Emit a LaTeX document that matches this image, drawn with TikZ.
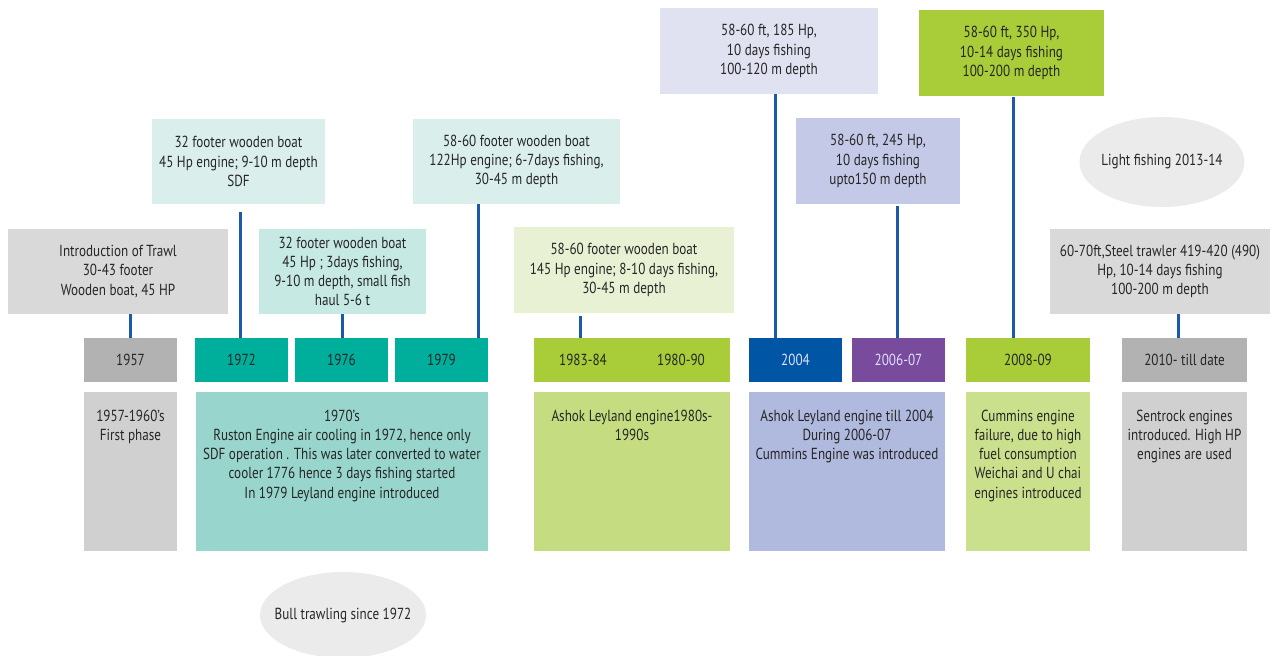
\documentclass[tikz,border=0pt]{standalone}
\usepackage{fontspec}
\setmainfont{PT Sans}[FakeStretch=0.82]
\usetikzlibrary{shapes.geometric}
\definecolor{txt}{HTML}{262626}
\definecolor{conncol}{HTML}{1A5AA8}
\definecolor{graynote}{HTML}{DAD9DA}
\definecolor{grayyear}{HTML}{B2B2B2}
\definecolor{graybot}{HTML}{D0D0D0}
\definecolor{tealyear}{HTML}{00AE9C}
\definecolor{tealnoteA}{HTML}{DAEFEC}
\definecolor{tealnoteB}{HTML}{C6E9E4}
\definecolor{tealbot}{HTML}{98D6CD}
\definecolor{greenyear}{HTML}{A8CD38}
\definecolor{greennote}{HTML}{E8F1D3}
\definecolor{greenbot}{HTML}{C5DD80}
\definecolor{greenbotB}{HTML}{CBE08C}
\definecolor{blueyear}{HTML}{0055A4}
\definecolor{purpleyear}{HTML}{784B9C}
\definecolor{bluebot}{HTML}{B0B9DE}
\definecolor{bluenoteA}{HTML}{E0E2F2}
\definecolor{bluenoteB}{HTML}{C5C9E8}
\definecolor{ellcol}{HTML}{EBEBEB}
\tikzset{
  box/.style={draw=none, inner sep=0pt, outer sep=0pt, text=txt, align=center,
    font=\fontsize{12}{14.4}\selectfont},
  conn/.style={draw=conncol, line width=2.25pt},
  ell/.style={ellipse, fill=ellcol, inner sep=0pt, outer sep=0pt},
}
\newcommand{\rbox}[7]{%
  \node[box, fill=#6, minimum width={(#4-#2)*0.75pt}, minimum height={(#5-#3)*0.75pt}, anchor=north west] (#1) at (#2,#3) {#7};}
\newcommand{\tbox}[7]{%
  \node[box, fill=#6, minimum width={(#4-#2)*0.75pt}, minimum height={(#5-#3)*0.75pt}, anchor=north west] (#1) at (#2,#3) {};
  \node[box, anchor=north] (#1txt) at ({(#2+#4)/2},{#3+18}) {#7};}
\begin{document}
\begin{tikzpicture}[x=0.75pt,y=-0.75pt]
\useasboundingbox (0,0) rectangle (1272,656);
% notes
\rbox{t1957}{8}{229}{228}{314}{graynote}{Introduction of Trawl\\30-43 footer\\Wooden boat, 45 HP}
\rbox{t1972}{152}{119}{325}{204}{tealnoteA}{32 footer wooden boat\\45 Hp engine; 9-10 m depth\\SDF}
\rbox{t1976}{259}{229}{426}{314}{tealnoteB}{32 footer wooden boat\\45 Hp ; 3days fishing,\\9-10 m depth, small fish\\haul 5-6 t}
\rbox{t1979}{413}{119}{620}{204}{tealnoteA}{58-60 footer wooden boat\\122Hp engine; 6-7days fishing,\\30-45 m depth}
\rbox{t1983}{514}{227}{734}{313}{greennote}{58-60 footer wooden boat\\145 Hp engine; 8-10 days fishing,\\30-45 m depth}
\rbox{t2004}{660}{8}{878}{94}{bluenoteA}{58-60 ft, 185 Hp,\\10 days fishing\\100-120 m depth}
\rbox{t2006}{796}{118}{960}{204}{bluenoteB}{58-60 ft, 245 Hp,\\10 days fishing\\upto150 m depth}
\rbox{t2008}{919}{10}{1104}{96}{greenyear}{58-60 ft, 350 Hp,\\10-14 days fishing\\100-200 m depth}
\rbox{t2010}{1050}{229}{1270}{314}{graynote}{60-70ft,Steel trawler 419-420 (490)\\Hp, 10-14 days fishing\\100-200 m depth}
% years
\rbox{n1957}{84}{338}{177}{382}{grayyear}{1957}
\rbox{n1972}{195}{338}{288}{382}{tealyear}{1972}
\rbox{n1976}{295}{338}{388}{382}{tealyear}{1976}
\rbox{n1979}{395}{338}{488}{382}{tealyear}{1979}
\rbox{n1983}{534}{338}{632}{382}{greenyear}{1983-84}
\rbox{n1980}{632}{338}{730}{382}{greenyear}{1980-90}
\rbox{n2004}{749}{338}{842}{382}{blueyear}{\color{white!88!blue}2004}
\rbox{n2006}{852}{338}{945}{382}{purpleyear}{\color{white!88!blue}2006-07}
\rbox{n2008}{966}{338}{1090}{382}{greenyear}{2008-09}
\rbox{n2010}{1122}{338}{1247}{382}{grayyear}{2010- till date}
% bottom boxes
\tbox{b1957}{84}{392}{177}{551}{graybot}{1957-1960’s\\First phase}
\tbox{b1970}{196}{392}{488}{551}{tealbot}{1970’s\\Ruston Engine air cooling in 1972, hence only\\SDF operation . This was later converted to water\\cooler 1776 hence 3 days fishing started\\In 1979 Leyland engine introduced}
\tbox{b1980}{534}{392}{730}{551}{greenbot}{Ashok Leyland engine1980s-\\1990s}
\tbox{b2004}{749}{392}{945}{551}{bluebot}{Ashok Leyland engine till 2004\\During 2006-07\\Cummins Engine was introduced}
\tbox{b2008}{966}{392}{1090}{551}{greenbotB}{Cummins engine\\failure, due to high\\fuel consumption\\Weichai and U chai\\engines introduced}
\tbox{b2010}{1122}{392}{1247}{551}{graybot}{Sentrock engines\\introduced. High HP\\engines are used}
% ellipses
\node[ell, minimum width=165*0.75pt, minimum height=90*0.75pt] (light) at (1162,162) {};
\node[box] (lighttxt) at (light.center) {Light fishing 2013-14};
\node[ell, minimum width=166*0.75pt, minimum height=86*0.75pt] (bull) at (343,615) {};
\node[box] (bulltxt) at (bull.center) {Bull trawling since 1972};
% connector x positions
\coordinate (x1957) at (130,0);
\coordinate (x1972) at (240,0);
\coordinate (x1976) at (342,0);
\coordinate (x1979) at (478,0);
\coordinate (x1983) at (580,0);
\coordinate (x2004) at (775,0);
\coordinate (x2006) at (897,0);
\coordinate (x2008) at (1013,0);
\coordinate (x2010) at (1178,0);
% connectors
\draw[conn] (n1957.north -| x1957) -- (t1957.south -| x1957);
\draw[conn] (n1972.north -| x1972) -- ([yshift=-6pt]t1972.south -| x1972);
\draw[conn] (n1976.north -| x1976) -- (t1976.south -| x1976);
\draw[conn] (n1979.north -| x1979) -- (t1979.south -| x1979);
\draw[conn] (n1983.north -| x1983) -- ([yshift=-2pt]t1983.south -| x1983);
\draw[conn] (n2004.north -| x2004) -- (t2004.south -| x2004);
\draw[conn] (n2006.north -| x2006) -- ([yshift=-1.5pt]t2006.south -| x2006);
\draw[conn] (n2008.north -| x2008) -- ([yshift=-1pt]t2008.south -| x2008);
\draw[conn] (n2010.north -| x2010) -- (t2010.south -| x2010);
\end{tikzpicture}
\end{document}
